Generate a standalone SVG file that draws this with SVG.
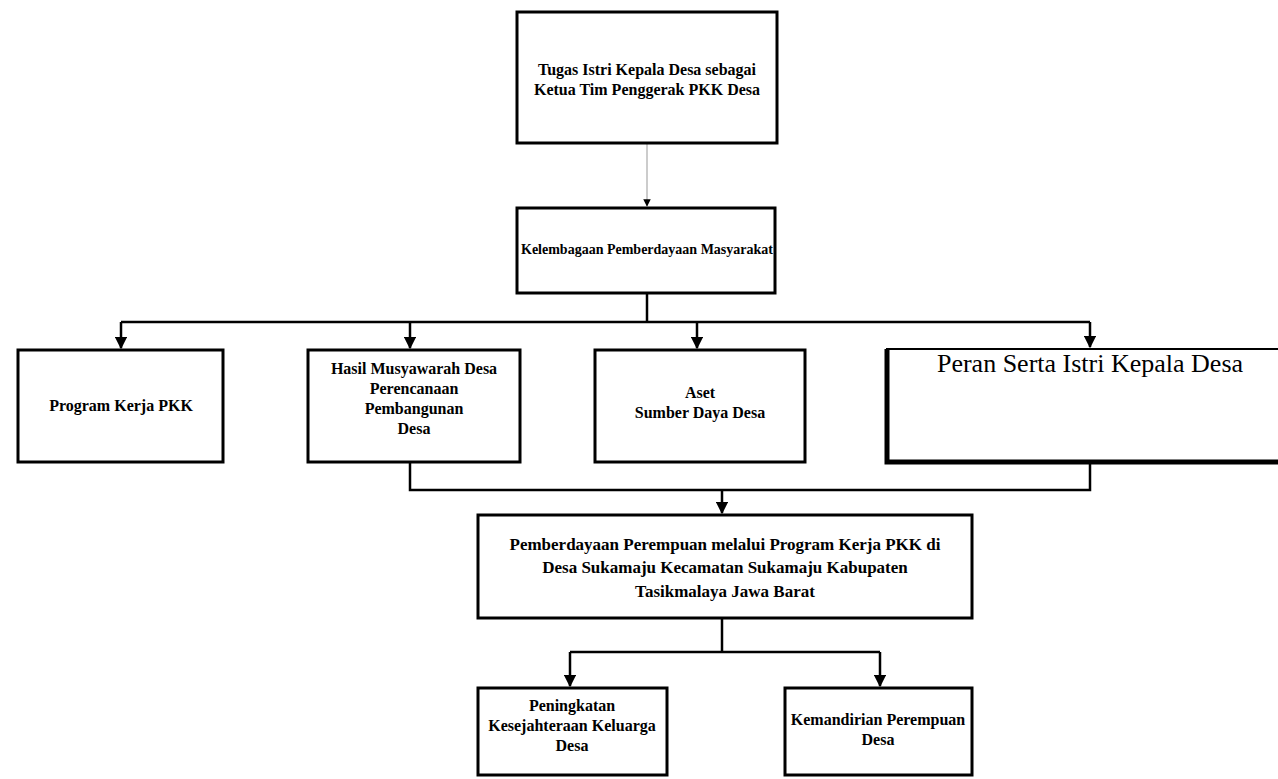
<svg xmlns="http://www.w3.org/2000/svg" width="1278" height="779" viewBox="0 0 1278 779">
<defs>
<marker id="arr" viewBox="0 0 10 10" refX="9" refY="5" markerWidth="5" markerHeight="5" orient="auto"><path d="M0,0 L10,5 L0,10 z" fill="#000"/></marker>
<style>
.box{fill:#fff;stroke:#000;stroke-width:3}
.t{font-family:"Liberation Serif","Times New Roman",serif;font-size:16px;font-weight:bold;fill:#000;text-anchor:middle}
.t2{font-family:"Liberation Serif","Times New Roman",serif;font-size:26px;fill:#000;text-anchor:middle}
.c{fill:none;stroke:#000;stroke-width:2.5}
</style>
</defs>
<rect width="1278" height="779" fill="#fff"/>
<g id="connectors">
<path d="M647,143 V206" fill="none" stroke="#bbb" stroke-width="1.5" marker-end="url(#arr)"/>
<path class="c" d="M647,293 V322"/>
<path class="c" d="M121,322 H1090"/>
<path class="c" d="M121,322 V348" marker-end="url(#arr)"/>
<path class="c" d="M410,322 V348" marker-end="url(#arr)"/>
<path class="c" d="M697,322 V348" marker-end="url(#arr)"/>
<path class="c" d="M1090,322 V347" marker-end="url(#arr)"/>
<path class="c" d="M410,462 V490 H1090 V462"/>
<path class="c" d="M722,490 V513" marker-end="url(#arr)"/>
<path class="c" d="M722,618 V652"/>
<path class="c" d="M570,652 H880"/>
<path class="c" d="M570,652 V686" marker-end="url(#arr)"/>
<path class="c" d="M880,652 V686" marker-end="url(#arr)"/>
</g>
<g id="n1">
<rect class="box" x="517" y="12" width="260" height="131"/>
<text class="t" x="647" y="75">Tugas Istri Kepala Desa sebagai</text>
<text class="t" x="647" y="95">Ketua Tim Penggerak PKK Desa</text>
</g>
<g id="n2">
<rect class="box" x="517" y="208" width="258" height="85"/>
<text class="t" x="647" y="254" style="font-size:14px">Kelembagaan Pemberdayaan Masyarakat</text>
</g>
<g id="n3">
<rect class="box" x="18" y="350" width="205" height="112"/>
<text class="t" x="121" y="411">Program Kerja PKK</text>
</g>
<g id="n4">
<rect class="box" x="308" y="350" width="212" height="112"/>
<text class="t" x="414" y="374">Hasil Musyawarah Desa</text>
<text class="t" x="414" y="394">Perencanaan</text>
<text class="t" x="414" y="414">Pembangunan</text>
<text class="t" x="414" y="434">Desa</text>
</g>
<g id="n5">
<rect class="box" x="595" y="350" width="210" height="112"/>
<text class="t" x="700" y="398">Aset</text>
<text class="t" x="700" y="418">Sumber Daya Desa</text>
</g>
<g id="n6">
<rect x="887" y="349" width="393" height="113" fill="#fff" stroke="#000" stroke-width="2"/>
<path d="M887,349 V462 H1278" fill="none" stroke="#000" stroke-width="5"/>
<text class="t2" x="1090" y="372">Peran Serta Istri Kepala Desa</text>
</g>
<g id="n7">
<rect class="box" x="478" y="515" width="494" height="103"/>
<text class="t" x="725" y="550" style="font-size:17px">Pemberdayaan Perempuan melalui Program Kerja PKK di</text>
<text class="t" x="725" y="573" style="font-size:17px">Desa Sukamaju Kecamatan Sukamaju Kabupaten</text>
<text class="t" x="725" y="597" style="font-size:17px">Tasikmalaya Jawa Barat</text>
</g>
<g id="n8">
<rect class="box" x="478" y="688" width="189" height="87"/>
<text class="t" x="572" y="711">Peningkatan</text>
<text class="t" x="572" y="731">Kesejahteraan Keluarga</text>
<text class="t" x="572" y="751">Desa</text>
</g>
<g id="n9">
<rect class="box" x="785" y="688" width="187" height="87"/>
<text class="t" x="878" y="725">Kemandirian Perempuan</text>
<text class="t" x="878" y="745">Desa</text>
</g>
</svg>
